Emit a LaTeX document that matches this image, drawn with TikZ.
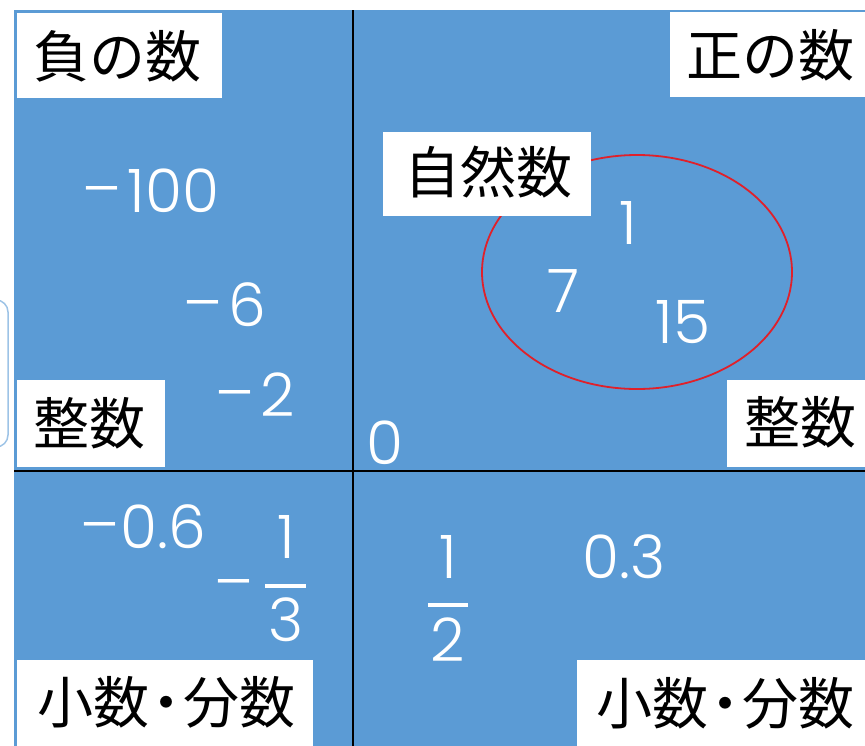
\documentclass[tikz,border=0pt]{standalone}
\usepackage{fontspec}
\setmainfont{Poppins Light}
\newfontfamily\jp{Noto Sans CJK JP}
\definecolor{panelblue}{HTML}{5B9BD5}
\definecolor{edgeblue}{HTML}{9DC3E6}
\definecolor{ringred}{HTML}{E0202A}
\newcommand{\mn}{\raisebox{2pt}{–}\kern6pt}
\newcommand{\jdot}{{\kern-11pt}・{\kern-11pt}}
\tikzset{
  labelbox/.style={fill=white, draw=none, inner sep=0pt, font=\jp\fontsize{56}{56}\selectfont, text=black},
  num/.style={text=white, inner sep=0pt, font=\fontsize{60}{60}\selectfont},
  fracbar/.style={white, line width=3.2pt},
  divider/.style={black, line width=2pt}
}
\begin{document}
\begin{tikzpicture}[x=1pt,y=-1pt]
\useasboundingbox (0,0) rectangle (865,745);
\clip (0,0) rectangle (865,745);
% side bracket
\draw[edgeblue, line width=1.5pt, rounded corners=12pt] (-30,300) rectangle (8,447);
% blue panel
\fill[panelblue] (14,10) rectangle (870,750);
\draw[divider] (353,10) -- (353,750);
\draw[divider] (14,471) -- (870,471);
% red ellipse
\draw[ringred, line width=1.8pt] (637,272) ellipse [x radius=155, y radius=117];
% label boxes
\fill[white] (17,13) rectangle (222,98);
\node[labelbox] (neg) at (118,56) {負の数};
\fill[white] (670,12) rectangle (870,97);
\node[labelbox] (pos) at (770,55) {正の数};
\fill[white] (383,132) rectangle (591,216);
\node[labelbox] (nat) at (488,172) {自然数};
\fill[white] (17,380) rectangle (165,467);
\node[labelbox] (intL) at (90,423) {整数};
\fill[white] (727,380) rectangle (870,467);
\node[labelbox] (intR) at (800,422) {整数};
\fill[white] (17,660) rectangle (313,750);
\node[labelbox] (decL) at (166,702) {小数\jdot 分数};
\fill[white] (577,660) rectangle (870,750);
\node[labelbox] (decR) at (725,703) {小数\jdot 分数};
% numbers
\node[num] (m100) at (151,191) {\mn 100};
\node[num] (m6) at (225,305) {\mn 6};
\node[num] (m2) at (255,395) {\mn 2};
\node[num] (zero) at (385,443) {0};
\node[num] (one) at (628,223) {1};
\node[num] (seven) at (563,291) {7};
\node[num] (fifteen) at (683,322) {15};
\node[num] (m06) at (143,527) {\raisebox{2pt}{–}\kern1pt 0.6};
\node[num] (mthird) at (234,592) {\raisebox{2pt}{–}};
\node[num] (thirdN) at (286,537) {1};
\draw[fracbar] (265,586) -- (306,586);
\node[num] (thirdD) at (286,620) {3};
\node[num] (halfN) at (448,557) {1};
\draw[fracbar] (428,605) -- (468,605);
\node[num] (halfD) at (448,640) {2};
\node[num] (p03) at (624,557) {0.3};
\end{tikzpicture}
\end{document}
